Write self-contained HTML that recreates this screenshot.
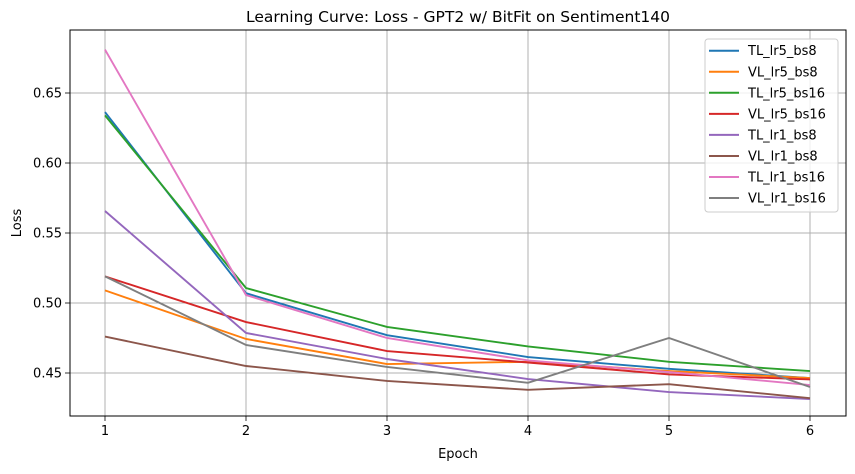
<!DOCTYPE html>
<html><head><meta charset="utf-8"><style>
body{margin:0;background:#fff;}
svg text{font-family:"DejaVu Sans","Liberation Sans",sans-serif;fill:#000;}
</style></head><body>
<svg id="chart" width="855" height="469" xmlns="http://www.w3.org/2000/svg"></svg>
<script>
const epochs=[1,2,3,4,5,6];
const yTicks=[0.45,0.50,0.55,0.60,0.65];
const seriesNames=["TL_lr5_bs8","VL_lr5_bs8","TL_lr5_bs16","VL_lr5_bs16","TL_lr1_bs8","VL_lr1_bs8","TL_lr1_bs16","VL_lr1_bs16"];
const colors=["#1f77b4","#ff7f0e","#2ca02c","#d62728","#9467bd","#8c564b","#e377c2","#7f7f7f"];
const tl_lr5_bs8=[0.6364,0.507,0.477,0.4614,0.453,0.4464];
const vl_lr5_bs8=[0.509,0.4743,0.4564,0.458,0.4514,0.4464];
const tl_lr5_bs16=[0.634,0.5107,0.4829,0.469,0.458,0.4514];
const vl_lr5_bs16=[0.519,0.4864,0.4657,0.4575,0.449,0.4454];
const tl_lr1_bs8=[0.5657,0.4786,0.46,0.4457,0.4364,0.4314];
const vl_lr1_bs8=[0.476,0.455,0.4443,0.438,0.442,0.432];
const tl_lr1_bs16=[0.681,0.5057,0.475,0.459,0.4507,0.4414];
const vl_lr1_bs16=[0.519,0.47,0.4543,0.443,0.475,0.440];
const allSeries=[tl_lr5_bs8,vl_lr5_bs8,tl_lr5_bs16,vl_lr5_bs16,tl_lr1_bs8,vl_lr1_bs8,tl_lr1_bs16,vl_lr1_bs16];

const L=70,R=846,T=30,B=416;
const xs=e=>105+(e-1)*141;
const ys=v=>373-(v-0.45)*1400;
const svg=document.getElementById('chart');
const NS="http://www.w3.org/2000/svg";
function mk(tag,attrs,parent){const el=document.createElementNS(NS,tag);for(const k in attrs)el.setAttribute(k,attrs[k]);(parent||svg).appendChild(el);return el;}

epochs.forEach(e=>{
  const g=mk('line',{x1:xs(e),x2:xs(e),y1:T,y2:B,stroke:'#b0b0b0','stroke-width':1});
  
  
  const t=mk('line',{x1:xs(e),x2:xs(e),y1:B,y2:B+5,stroke:'#000','stroke-width':0.8});
  
  
  const l=mk('text',{x:xs(e),y:B+19,'font-size':13,'text-anchor':'middle'});l.textContent=e;
  
  
});
yTicks.forEach(v=>{
  const g=mk('line',{x1:L,x2:R,y1:ys(v),y2:ys(v),stroke:'#b0b0b0','stroke-width':1});
  
  
  const t=mk('line',{x1:L-5,x2:L,y1:ys(v),y2:ys(v),stroke:'#000','stroke-width':0.8});
  
  
  const l=mk('text',{x:L-8,y:ys(v)+4.5,'font-size':13,'text-anchor':'end'});l.textContent=v.toFixed(2);
  
  
});
allSeries.forEach((s,i)=>{
  const p=mk('polyline',{points:s.map((v,j)=>xs(epochs[j])+','+ys(v)).join(' '),fill:'none',stroke:colors[i],'stroke-width':1.9});
  
  
});
const fr=mk('rect',{x:L,y:T,width:R-L,height:B-T,fill:'none',stroke:'#000','stroke-width':1});


const ti=mk('text',{x:(L+R)/2,y:22,'font-size':15.5,'text-anchor':'middle'});ti.textContent='Learning Curve: Loss - GPT2 w/ BitFit on Sentiment140';


const xl=mk('text',{x:(L+R)/2,y:458,'font-size':13,'text-anchor':'middle'});xl.textContent='Epoch';


const yl=mk('text',{x:21,y:(T+B)/2,'font-size':13,'text-anchor':'middle',transform:'rotate(-90 21 '+(T+B)/2+')'});yl.textContent='Loss';


const lg=mk('g',{});


mk('rect',{x:705,y:39,width:133,height:173,rx:3,fill:'#fff','fill-opacity':0.8,stroke:'#ccc','stroke-width':1},lg);
seriesNames.forEach((n,i)=>{
  const y=50.7+i*21.05;
  const e=mk('g',{},lg);
  
  
  mk('line',{x1:709,x2:739,y1:y,y2:y,stroke:colors[i],'stroke-width':2},e);
  const t=mk('text',{x:748,y:y+4.5,'font-size':13},e);t.textContent=n;
});
</script>
</body></html>
